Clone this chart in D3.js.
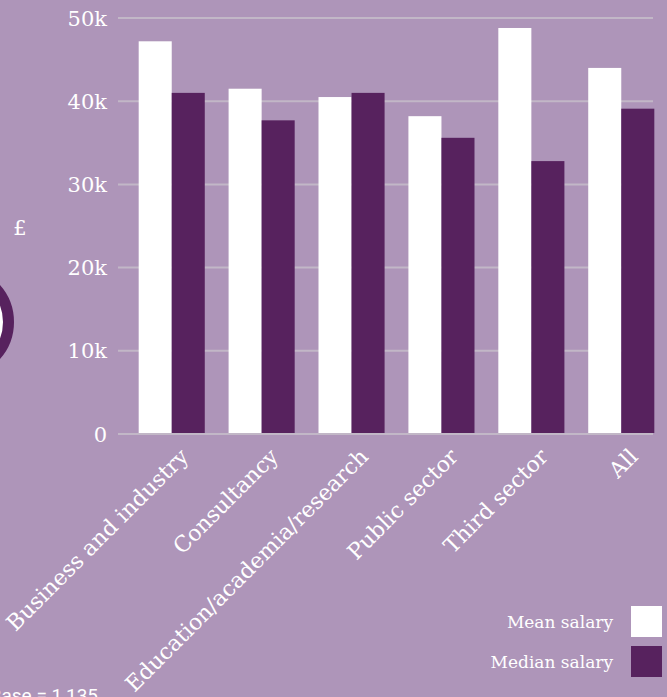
<!DOCTYPE html>
<html>
<head>
<meta charset="utf-8">
<script src="https://cdn.jsdelivr.net/npm/d3@7"></script>
<style>
  html, body { margin: 0; padding: 0; background: #ae95b9; overflow: hidden; }
  svg { display: block; }
  text { fill: #fff; font-family: "DejaVu Serif", serif; }
</style>
</head>
<body>
<svg id="chart"></svg>
<script>
'use strict'

var categories = ["Business and industry", "Consultancy", "Education/academia/research",
    "Public sector", "Third sector", "All"];
var meanSalary = [47200, 41500, 40500, 38200, 48800, 44000];
var medianSalary = [41000, 37700, 41000, 35600, 32800, 39100];
var seriesNames = ["Mean salary", "Median salary"];
var yTicks = [0, 10000, 20000, 30000, 40000, 50000];
var yTickLabels = ["0", "10k", "20k", "30k", "40k", "50k"];

var width = 667, height = 697;
var dark = "#57225e", grid = "#c2b7c7";
var colors = ["#ffffff", dark];

var svg = d3.select("#chart")
    .attr("width", width)
    .attr("height", height);

var y = d3.scaleLinear().domain([0, 50000]).range([434, 18]);

var x = d3.scaleBand()
    .domain(categories)
    .range([127, 666])
    .paddingInner(0.265)
    .paddingOuter(0.13);

var x1 = d3.scaleBand()
    .domain(seriesNames)
    .range([0, x.bandwidth()]);

// partial donut from the neighbouring panel
svg.append("circle")
    .attr("cx", -42)
    .attr("cy", 322)
    .attr("r", 50.5)
    .attr("fill", "#fff")
    .attr("stroke", dark)
    .attr("stroke-width", 11);

svg.append("text")
    .attr("x", 20)
    .attr("y", 235)
    .attr("text-anchor", "middle")
    .style("font-size", "21px")
    .text("£");

// gridlines + y labels
var yAxis = svg.append("g").attr("class", "y-axis");
yAxis.selectAll("line")
    .data(yTicks)
    .enter().append("line")
    .attr("x1", 118)
    .attr("x2", 653)
    .attr("y1", (d) => y(d))
    .attr("y2", (d) => y(d))
    .attr("stroke", grid)
    .attr("stroke-width", 2);

yAxis.selectAll("text")
    .data(yTicks)
    .enter().append("text")
    .attr("x", 107)
    .attr("y", (d) => y(d))
    .attr("dy", "0.36em")
    .attr("text-anchor", "end")
    .style("font-size", "21px")
    .text((d, i) => yTickLabels[i]);

// bars
var rows = categories.map((c, i) => ({ cat: c, values: [meanSalary[i], medianSalary[i]] }));

var groups = svg.append("g")
    .selectAll("g")
    .data(rows)
    .enter().append("g")
    .attr("transform", (d) => `translate(${x(d.cat)},0)`);

groups.selectAll("rect")
    .data((d) => d.values.map((v, j) => ({ key: seriesNames[j], value: v, j: j })))
    .enter().append("rect")
    .attr("x", (d) => x1(d.key))
    .attr("y", (d) => y(d.value))
    .attr("width", x1.bandwidth())
    .attr("height", (d) => y(0) - y(d.value) - 1)
    .attr("fill", (d) => colors[d.j]);

// category labels
svg.append("g")
    .selectAll("text")
    .data(categories)
    .enter().append("text")
    .attr("transform", (d) => `translate(${x(d) + x.bandwidth() / 2 + 18},${458}) rotate(-45)`)
    .attr("text-anchor", "end")
    .style("font-size", "22px")
    .text((d) => d);

// legend
var legend = svg.append("g")
    .selectAll("g")
    .data(seriesNames)
    .enter().append("g")
    .attr("transform", (d, i) => `translate(0,${606 + i * 40})`);

legend.append("rect")
    .attr("x", 631)
    .attr("y", 0)
    .attr("width", 31)
    .attr("height", 31)
    .attr("fill", (d, i) => colors[i]);

legend.append("text")
    .attr("x", 613)
    .attr("y", 16)
    .attr("dy", "0.35em")
    .attr("text-anchor", "end")
    .style("font-size", "17px")
    .text((d) => d);

svg.append("text")
    .attr("x", 98)
    .attr("y", 702)
    .attr("text-anchor", "end")
    .style("font-family", "Roboto, sans-serif")
    .style("font-size", "19px")
    .text("Base = 1,135");
</script>
</body>
</html>
